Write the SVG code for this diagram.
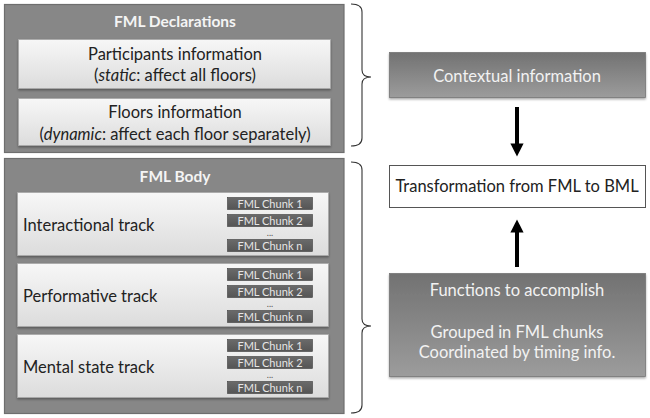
<svg xmlns="http://www.w3.org/2000/svg" width="650" height="418" viewBox="0 0 650 418">
<defs>
<linearGradient id="inner" x1="0" y1="0" x2="0" y2="1"><stop offset="0" stop-color="#f7f7f7"/><stop offset="1" stop-color="#dcdcdc"/></linearGradient>
<linearGradient id="chunk" x1="0" y1="0" x2="0" y2="1"><stop offset="0" stop-color="#6a6a6a"/><stop offset="1" stop-color="#555"/></linearGradient>
<linearGradient id="dark" x1="0" y1="0" x2="0" y2="1"><stop offset="0" stop-color="#727272"/><stop offset="1" stop-color="#9c9c9c"/></linearGradient>
<filter id="sh" x="-5%" y="-10%" width="110%" height="130%"><feDropShadow dx="0" dy="1.5" stdDeviation="1.2" flood-color="#000" flood-opacity="0.35"/></filter>
<marker id="ah" viewBox="0 0 10 10" refX="5" refY="5" markerWidth="3.3" markerHeight="3.3" orient="auto"><path d="M0,0 L10,5 L0,10 z" fill="#000"/></marker>
</defs>
<style>
text{font-family:Lato,"Open Sans","Liberation Sans",sans-serif}
.outer{fill:#878787;stroke:#6e6e6e;stroke-width:1.2}
.inner{fill:url(#inner);stroke:#a8a8a8;stroke-width:0.8;filter:url(#sh)}
.chunk{fill:url(#chunk);stroke:#3e3e3e;stroke-width:0.6}
.ttl{font-size:15.5px;font-weight:bold;fill:#f4f4f4;text-anchor:middle}
.t15{font-size:16.5px;fill:#222;text-anchor:middle}
.trk{font-size:16.5px;fill:#222}
.ck{font-size:11px;fill:#e6e6e6;text-anchor:middle}
.dots{font-size:9px;fill:#555;text-anchor:middle}
.dark{fill:url(#dark);stroke:#777;stroke-width:0.8;filter:url(#sh)}
.lt{font-size:16.5px;fill:#f2f2f2;text-anchor:middle}
.brace{fill:none;stroke:#333;stroke-width:1.1}
.arr{stroke:#000;stroke-width:4;fill:none}
</style>

<g id="fml-declarations">
<rect class="outer" x="4.5" y="4.5" width="339.5" height="148"/>
<text class="ttl" x="175" y="27">FML Declarations</text>
</g>
<g id="participants">
<rect class="inner" x="18.5" y="39.5" width="312" height="49"/>
<text class="t15" x="175" y="60">Participants information</text>
<text class="t15" x="175" y="81">(<tspan font-style="italic">static</tspan>: affect all floors)</text>
</g>
<g id="floors">
<rect class="inner" x="18.5" y="98.5" width="312" height="47"/>
<text class="t15" x="175" y="118">Floors information</text>
<text class="t15" x="175" y="140">(<tspan font-style="italic">dynamic</tspan>: affect each floor separately)</text>
</g>

<g id="fml-body">
<rect class="outer" x="4.5" y="158.5" width="339.5" height="255"/>
<text class="ttl" x="175" y="182">FML Body</text>
</g>

<g id="interactional-track">
<rect class="inner" x="17.5" y="192.5" width="311" height="63"/>
<text class="trk" x="23" y="231">Interactional track</text>
<rect class="chunk" x="227.5" y="197.5" width="85" height="12"/><text class="ck" x="270" y="207.5">FML Chunk 1</text>
<rect class="chunk" x="227.5" y="214.5" width="85" height="12"/><text class="ck" x="270" y="224.5">FML Chunk 2</text>
<text class="dots" x="270" y="236">...</text>
<rect class="chunk" x="227.5" y="239.5" width="85" height="12"/><text class="ck" x="270" y="249.5">FML Chunk n</text>
</g>

<g id="performative-track">
<rect class="inner" x="17.5" y="263.5" width="311" height="63"/>
<text class="trk" x="23" y="302">Performative track</text>
<rect class="chunk" x="227.5" y="268.5" width="85" height="12"/><text class="ck" x="270" y="278.5">FML Chunk 1</text>
<rect class="chunk" x="227.5" y="285.5" width="85" height="12"/><text class="ck" x="270" y="295.5">FML Chunk 2</text>
<text class="dots" x="270" y="307">...</text>
<rect class="chunk" x="227.5" y="310.5" width="85" height="12"/><text class="ck" x="270" y="320.5">FML Chunk n</text>
</g>

<g id="mental-state-track">
<rect class="inner" x="17.5" y="334.5" width="311" height="63"/>
<text class="trk" x="23" y="373">Mental state track</text>
<rect class="chunk" x="227.5" y="339.5" width="85" height="12"/><text class="ck" x="270" y="349.5">FML Chunk 1</text>
<rect class="chunk" x="227.5" y="356.5" width="85" height="12"/><text class="ck" x="270" y="366.5">FML Chunk 2</text>
<text class="dots" x="270" y="378">...</text>
<rect class="chunk" x="227.5" y="381.5" width="85" height="12"/><text class="ck" x="270" y="391.5">FML Chunk n</text>
</g>

<g id="contextual-information">
<rect class="dark" x="389.5" y="52.5" width="256" height="45"/>
<text class="lt" x="517" y="82">Contextual information</text>
</g>

<g id="transformation">
<rect x="389.5" y="165.5" width="256" height="42" fill="#fff" stroke="#555" stroke-width="1"/>
<text class="t15" x="517" y="192">Transformation from FML to BML</text>
</g>

<g id="functions">
<rect class="dark" x="389.5" y="273.5" width="256" height="103"/>
<text class="lt" x="517" y="296">Functions to accomplish</text>
<text class="lt" x="517" y="338">Grouped in FML chunks</text>
<text class="lt" x="517" y="358">Coordinated by timing info.</text>
</g>

<g id="connectors">
<path class="brace" d="M351,4 Q362,4 362,12 L362,70 Q362,77 371,77 Q362,77 362,84 L362,138 Q362,146 351,146"/>
<path class="brace" d="M351,162 Q362,162 362,170 L362,319 Q362,326 371,326 Q362,326 362,333 L362,405 Q362,413 351,413"/>
<line class="arr" x1="517" y1="107" x2="517" y2="150" marker-end="url(#ah)"/>
<line class="arr" x1="517" y1="267" x2="517" y2="226" marker-end="url(#ah)"/>
</g>
</svg>
